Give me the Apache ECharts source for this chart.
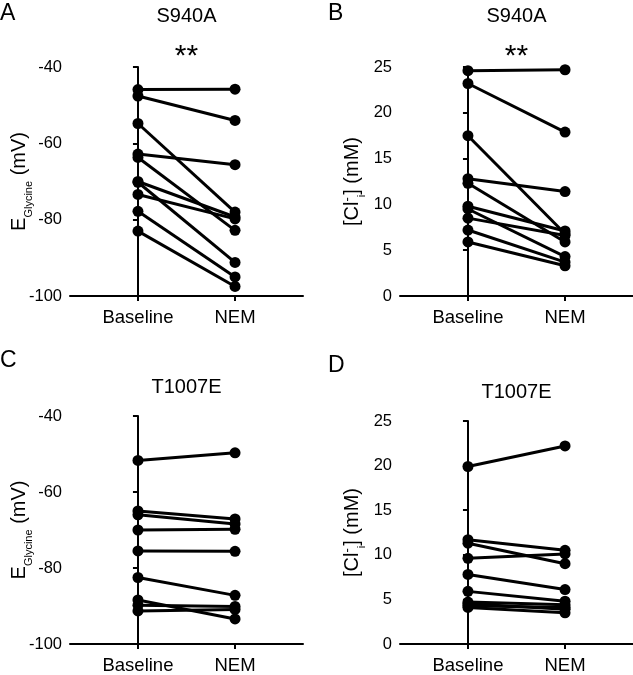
<!DOCTYPE html>
<html>
<head>
<meta charset="utf-8">
<script src="https://cdn.jsdelivr.net/npm/echarts@6/dist/echarts.min.js"></script>
<style>
html,body{margin:0;padding:0;background:#fff;}
#chart{width:633px;height:675px;}
</style>
</head>
<body>
<div id="chart"></div>
<script>
// ---- data ----
var categories = ['Baseline', 'NEM'];
var baselineA = [-45.9, -47.6, -54.8, -62.8, -63.7, -70.0, -70.2, -73.4, -77.8, -83.0];
var nemA      = [-45.8, -54.0, -78.0, -65.6, -82.8, -79.3, -91.2, -79.8, -95.0, -97.5];
var baselineB = [24.6, 23.2, 17.5, 12.8, 12.3, 9.8, 9.5, 8.5, 7.2, 5.9];
var nemB      = [24.7, 17.9, 6.8, 11.4, 5.9, 7.1, 4.3, 6.6, 3.7, 3.3];
var baselineC = [-51.7, -65.0, -66.0, -70.0, -75.5, -82.5, -88.4, -89.8, -91.3];
var nemC      = [-49.7, -67.1, -68.4, -69.8, -75.6, -87.2, -93.4, -90.1, -90.9];
var baselineD = [19.9, 11.7, 11.3, 9.6, 7.8, 5.9, 4.7, 4.5, 4.3, 4.1];
var nemD      = [22.2, 10.5, 9.0, 10.1, 6.1, 4.8, 4.4, 3.9, 4.1, 3.5];
var panelLetters = ['A', 'B', 'C', 'D'];
var panelTitles = ['S940A', 'S940A', 'T1007E', 'T1007E'];
var signif = ['**', '**', '', ''];
var yTicksE = [-100, -80, -60, -40];
var yTicksCl = [0, 5, 10, 15, 20, 25];

// ---- layout ----
var FF = 'Arial, "Liberation Sans", Helvetica, sans-serif';
var grids = [
  {left: 70, top: 67, width: 233, height: 229},
  {left: 400, top: 67, width: 233, height: 229},
  {left: 70, top: 416, width: 233, height: 229},
  {left: 400, top: 421, width: 233, height: 228}
];
var eName = '{m|E}{s|Glycine}{m| (mV)}';
var clName = '{m|[Cl}{p|-}{s|i}{m|] (mM)}';
var richName = {
  m: {fontSize: 20, lineHeight: 30, fontFamily: FF, color: '#000'},
  s: {fontSize: 11, lineHeight: 11, verticalAlign: 'bottom', fontFamily: FF, color: '#000'},
  p: {fontSize: 13, lineHeight: 13, verticalAlign: 'top', fontFamily: FF, color: '#000', padding: [4, 0, 0, 0]}
};
var panels = [
  {b: baselineA, n: nemA, min: yTicksE[0], max: yTicksE[yTicksE.length - 1], interval: 20, name: eName, gap: 36},
  {b: baselineB, n: nemB, min: yTicksCl[0], max: yTicksCl[yTicksCl.length - 1], interval: 5, name: clName, gap: 33},
  {b: baselineC, n: nemC, min: yTicksE[0], max: yTicksE[yTicksE.length - 1], interval: 20, name: eName, gap: 36},
  {b: baselineD, n: nemD, min: yTicksCl[0], max: yTicksCl[yTicksCl.length - 1], interval: 5, name: clName, gap: 33}
];

var axisLine = {show: true, lineStyle: {color: '#000', width: 2}};
var axisTick = {show: true, length: 5, lineStyle: {color: '#000', width: 2}};

var xAxes = [], yAxes = [], series = [], graphics = [];
panels.forEach(function (p, i) {
  xAxes.push({
    gridIndex: i, type: 'value', min: -0.7, max: 1.7,
    axisLine: axisLine,
    axisTick: {show: true, length: 5, lineStyle: {color: '#000', width: 2}, customValues: [0, 1]},
    axisLabel: {customValues: [0, 1], margin: 12, fontSize: 18.5, fontFamily: FF, color: '#000',
      formatter: function (v) { return categories[Math.round(v)]; }},
    splitLine: {show: false}
  });
  yAxes.push({
    gridIndex: i, type: 'value', min: p.min, max: p.max, interval: p.interval,
    axisLine: axisLine, axisTick: axisTick,
    axisLabel: {margin: 8, fontSize: 16.5, fontFamily: FF, color: '#000'},
    splitLine: {show: false},
    name: p.name, nameLocation: 'middle', nameGap: p.gap, nameRotate: 90,
    nameMoveOverlap: false,
    nameTextStyle: {rich: richName}
  });
  for (var k = 0; k < p.b.length; k++) {
    series.push({
      type: 'line', xAxisIndex: i, yAxisIndex: i,
      data: [[0, p.b[k]], [1, p.n[k]]],
      symbol: 'circle', symbolSize: 11, showSymbol: true,
      lineStyle: {color: '#000', width: 3},
      itemStyle: {color: '#000'},
      emphasis: {disabled: true}, silent: true
    });
  }
  var g = grids[i];
  var cx = g.left + g.width / 2;
  graphics.push({type: 'text', x: g.left - (i % 2 ? 72 : 70), y: g.top - (i < 2 ? 65 : 67),
    style: {text: panelLetters[i], fontSize: 23, fontFamily: FF, fill: '#000', align: 'left', verticalAlign: 'top'}});
  graphics.push({type: 'text', x: cx, y: g.top - (i < 2 ? 61 : 39),
    style: {text: panelTitles[i], fontSize: 20, fontFamily: FF, fill: '#000', align: 'center', verticalAlign: 'top'}});
  if (signif[i]) {
    graphics.push({type: 'text', x: cx, y: g.top - 25,
      style: {text: signif[i], fontSize: 30, fontFamily: FF, fill: '#000', align: 'center', verticalAlign: 'top'}});
  }
});

var chart = echarts.init(document.getElementById('chart'), null, {renderer: 'canvas'});
chart.setOption({
  animation: false,
  backgroundColor: '#fff',
  grid: grids,
  xAxis: xAxes,
  yAxis: yAxes,
  series: series,
  graphic: graphics
});
</script>
</body>
</html>
